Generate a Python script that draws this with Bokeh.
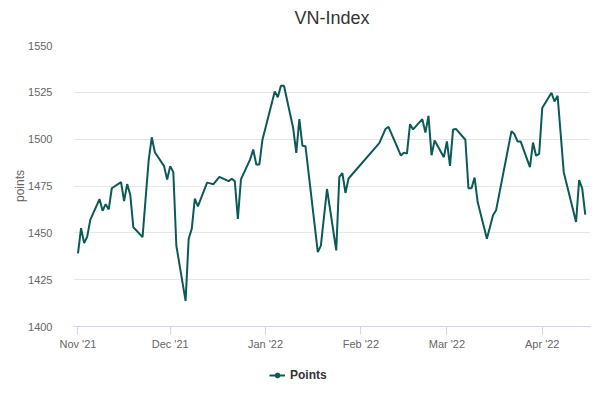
import pandas as pd
from bokeh.plotting import figure
from bokeh.layouts import column
from bokeh.models import ColumnDataSource, FixedTicker, Range1d, Legend, LegendItem
from bokeh.embed import file_html
from bokeh.resources import INLINE

# ---- data ----
dates = [
    "2021-11-01", "2021-11-02", "2021-11-03", "2021-11-04", "2021-11-05",
    "2021-11-08", "2021-11-09", "2021-11-10", "2021-11-11", "2021-11-12",
    "2021-11-15", "2021-11-16", "2021-11-17", "2021-11-18", "2021-11-19",
    "2021-11-22", "2021-11-24", "2021-11-25", "2021-11-26",
    "2021-11-29", "2021-11-30", "2021-12-01", "2021-12-02", "2021-12-03",
    "2021-12-06", "2021-12-07", "2021-12-08", "2021-12-09", "2021-12-10",
    "2021-12-13", "2021-12-14", "2021-12-15", "2021-12-17",
    "2021-12-20", "2021-12-21", "2021-12-22", "2021-12-23", "2021-12-24",
    "2021-12-27", "2021-12-28", "2021-12-29", "2021-12-30", "2021-12-31",
    "2022-01-04", "2022-01-05", "2022-01-06", "2022-01-07",
    "2022-01-10", "2022-01-11", "2022-01-12", "2022-01-13", "2022-01-14",
    "2022-01-18", "2022-01-19", "2022-01-21",
    "2022-01-24", "2022-01-25", "2022-01-26", "2022-01-27", "2022-01-28",
    "2022-02-07", "2022-02-09", "2022-02-10",
    "2022-02-14", "2022-02-15", "2022-02-16", "2022-02-17", "2022-02-18",
    "2022-02-21", "2022-02-22", "2022-02-23", "2022-02-24", "2022-02-25",
    "2022-02-28", "2022-03-01", "2022-03-02", "2022-03-03", "2022-03-04",
    "2022-03-07", "2022-03-08", "2022-03-09", "2022-03-10", "2022-03-11",
    "2022-03-14", "2022-03-16", "2022-03-17",
    "2022-03-22", "2022-03-23", "2022-03-24", "2022-03-25",
    "2022-03-28", "2022-03-29", "2022-03-30", "2022-03-31", "2022-04-01",
    "2022-04-04", "2022-04-05", "2022-04-06", "2022-04-08",
    "2022-04-12", "2022-04-13", "2022-04-14", "2022-04-15",
]
points = [
    1439.0, 1452.5, 1444.5, 1448.0, 1456.9,
    1468.0, 1461.8, 1465.3, 1462.5, 1473.8,
    1477.1, 1467.0, 1476.0, 1470.3, 1453.0,
    1447.7, 1489.0, 1501.0, 1493.0,
    1485.6, 1478.5, 1485.6, 1482.4, 1443.0,
    1413.7, 1446.8, 1452.1, 1468.3, 1464.1,
    1476.8, 1476.4, 1475.9, 1479.9,
    1477.6, 1478.9, 1477.6, 1457.4, 1478.5,
    1489.2, 1494.5, 1486.5, 1486.5, 1499.7,
    1525.5, 1522.4, 1528.5, 1528.5,
    1505.8, 1492.7, 1510.7, 1496.5, 1496.2,
    1439.7, 1443.2, 1473.4,
    1440.6, 1479.9, 1481.8, 1471.3, 1479.0,
    1497.9, 1505.4, 1506.6,
    1491.3, 1492.8, 1492.3, 1508.0, 1505.2,
    1510.7, 1503.5, 1512.4, 1491.4, 1499.3,
    1490.4, 1498.8, 1485.7, 1505.2, 1505.4,
    1499.7, 1473.8, 1473.8, 1479.5, 1466.4,
    1446.9, 1459.4, 1462.1,
    1504.3, 1502.6, 1498.7, 1498.7,
    1485.1, 1498.2, 1491.2, 1492.1, 1516.6,
    1524.8, 1520.1, 1523.2, 1482.4,
    1455.8, 1478.1, 1473.7, 1459.7,
]
tick_dates = ["2021-11-01", "2021-12-01", "2022-01-01", "2022-02-01", "2022-03-01", "2022-04-01"]
tick_labels = ["Nov '21", "Dec '21", "Jan '22", "Feb '22", "Mar '22", "Apr '22"]
y_ticks = [1400, 1425, 1450, 1475, 1500, 1525, 1550]
series_name = "Points"
title_text = "VN-Index"
y_title = "points"


def ms(s):
    return int(pd.Timestamp(s).value // 10**6)


DAY = 86400000
x_ms = [ms(d) for d in dates]
tick_ms = [ms(d) for d in tick_dates]
x0 = ms("2021-11-01") - 1.46 * DAY
x1 = ms("2021-11-01") + 166.7 * DAY

FONT = "Liberation Sans"
LINE_COLOR = "#0b5a55"


def blank_strip(h, title=None):
    f = figure(width=600, height=h, output_backend="svg", toolbar_location=None,
               x_range=Range1d(0, 1), y_range=Range1d(0, 1),
               x_axis_location=None, y_axis_location=None, min_border=0,
               title=title)
    f.outline_line_color = None
    f.grid.visible = False
    f.background_fill_color = "white"
    f.border_fill_color = "white"
    return f


# ---- title strip ----
tf = blank_strip(35, title_text)
tf.title.align = "center"
tf.title.text_font = FONT
tf.title.text_font_size = "18px"
tf.title.text_font_style = "normal"
tf.title.text_color = "#333333"
tf.title.standoff = 11

# ---- main chart ----
p = figure(width=600, height=317, output_backend="svg",
           toolbar_location=None,
           x_range=Range1d(x0, x1), y_range=Range1d(1400, 1550),
           min_border_left=73, min_border_right=10, min_border_top=10,
           min_border_bottom=25)
p.title.text = ""
p.outline_line_color = None
p.background_fill_color = "white"
p.border_fill_color = "white"

# y axis
p.yaxis.ticker = FixedTicker(ticks=y_ticks)
p.yaxis.axis_line_color = None
p.yaxis.major_tick_line_color = None
p.yaxis.minor_tick_line_color = None
p.yaxis.major_label_text_color = "#666666"
p.yaxis.major_label_text_font = FONT
p.yaxis.major_label_text_font_size = "11px"
p.yaxis.major_label_standoff = 15
p.yaxis.axis_label = y_title
p.yaxis.axis_label_text_font = FONT
p.yaxis.axis_label_text_font_size = "12px"
p.yaxis.axis_label_text_font_style = "normal"
p.yaxis.axis_label_text_color = "#666666"
p.yaxis.axis_label_standoff = -2

p.ygrid.ticker = FixedTicker(ticks=y_ticks)
p.ygrid.grid_line_color = "#e6e6e6"
p.xgrid.visible = False

# x axis
p.xaxis.ticker = FixedTicker(ticks=tick_ms)
p.xaxis.major_label_overrides = {t: l for t, l in zip(tick_ms, tick_labels)}
p.xaxis.axis_line_color = "#ccd6eb"
p.xaxis.major_tick_line_color = "#ccd6eb"
p.xaxis.major_tick_out = 8
p.xaxis.major_tick_in = 0
p.xaxis.minor_tick_line_color = None
p.xaxis.major_label_text_color = "#666666"
p.xaxis.major_label_text_font = FONT
p.xaxis.major_label_text_font_size = "11px"
p.xaxis.major_label_standoff = 3

src = ColumnDataSource(dict(x=x_ms, y=points))
p.line("x", "y", source=src, line_color=LINE_COLOR, line_width=2)

# ---- legend strip below the chart (same series, out of this strip's view) ----
lg = blank_strip(48)
lr = lg.line("x", "y", source=src, line_color=LINE_COLOR, line_width=2)
sr = lg.scatter("x", "y", source=src, size=8, marker="circle",
                fill_color=LINE_COLOR, line_color=LINE_COLOR)
legend = Legend(items=[LegendItem(label=series_name, renderers=[lr, sr])],
                orientation="horizontal", location=(196, 18),
                border_line_color=None, background_fill_alpha=0,
                label_text_font=FONT, label_text_font_style="bold",
                label_text_font_size="12px", label_text_color="#333333",
                glyph_width=16, glyph_height=12, label_standoff=5,
                margin=0, padding=4)
lg.add_layout(legend)

layout = column(tf, p, lg, spacing=0)
open("out.html", "w").write(file_html(layout, INLINE))
